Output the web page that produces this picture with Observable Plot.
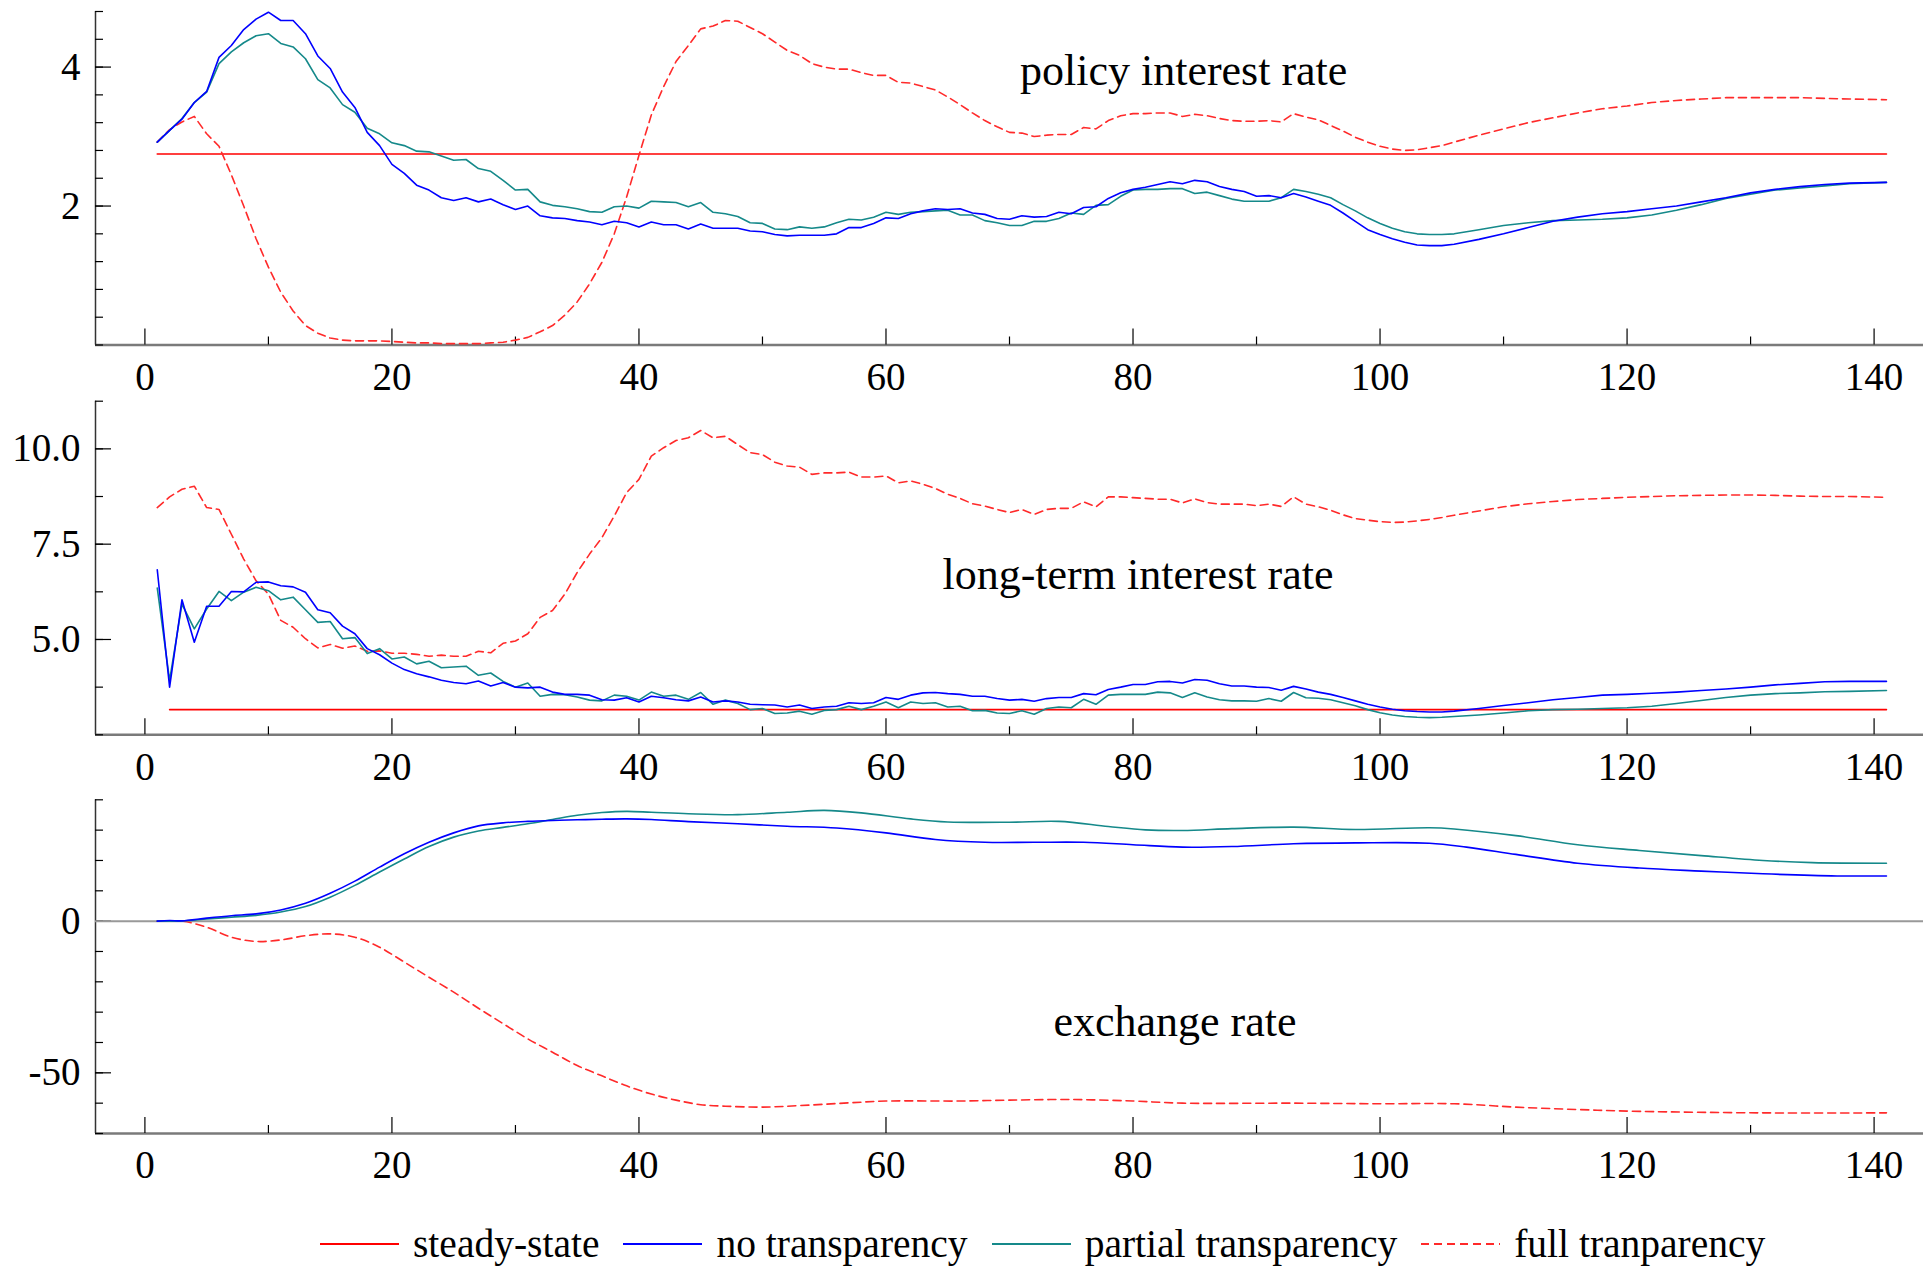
<!DOCTYPE html>
<html>
<head>
<meta charset="utf-8">
<script src="https://cdn.jsdelivr.net/npm/d3@7"></script>
<script src="https://cdn.jsdelivr.net/npm/@observablehq/plot@0.6"></script>
<style>
  html, body { margin: 0; padding: 0; background: #fff; }
  #wrap { position: relative; width: 1926px; height: 1267px; overflow: hidden; font-family: "Liberation Serif", "Times New Roman", serif; }
  #wrap svg.panel { display: block; }
  #legend { position: absolute; left: 320px; top: 1224px; height: 40px; display: flex; align-items: center; font-size: 39.5px; line-height: 40px; color: #000; white-space: nowrap; }
  #legend .sw { display: block; margin-right: 14px; }
  #legend .item { display: flex; align-items: center; margin-right: 24px; }
</style>
</head>
<body>
<div id="wrap"></div>
<script>
// ---------------- data ----------------
// periods (weeks) shared by the policy- and long-term-rate series
const weeks = d3.range(1, 94).concat([94,95,96,97,98,99,100,101,102,103,104,105,106,108,110,112,114,116,118,120,122,124,126,128,130,132,134,136,138,141]);
const firstPeriod = 1, lastPeriod = 141;

// policy interest rate
const policySteady = 2.75;
const policyNo = [2.92,3.09,3.25,3.49,3.65,4.14,4.31,4.54,4.69,4.79,
  4.67,4.67,4.48,4.16,3.98,3.64,3.42,3.06,2.87,2.60,
  2.47,2.30,2.23,2.12,2.08,2.12,2.06,2.10,2.02,1.95,
  2.00,1.86,1.83,1.82,1.79,1.77,1.73,1.78,1.76,1.70,
  1.77,1.73,1.73,1.67,1.74,1.68,1.68,1.68,1.64,1.63,
  1.59,1.57,1.58,1.58,1.58,1.60,1.69,1.69,1.75,1.83,
  1.82,1.89,1.93,1.96,1.95,1.96,1.90,1.88,1.82,1.81,
  1.86,1.84,1.85,1.91,1.89,1.98,1.99,2.11,2.19,2.24,
  2.27,2.31,2.35,2.32,2.37,2.35,2.28,2.24,2.21,2.14,
  2.15,2.12,2.18,
  2.13,2.07,2.01,1.90,1.78,1.66,1.59,1.53,1.48,1.44,1.43,1.43,1.45,
  1.52,1.60,1.69,1.78,1.84,1.89,1.92,1.96,2.00,2.06,2.12,2.19,2.24,2.28,2.31,2.33,2.34];
const policyPartial = [2.92,3.09,3.26,3.49,3.64,4.05,4.22,4.35,4.45,4.48,
  4.34,4.29,4.12,3.82,3.70,3.46,3.35,3.12,3.04,2.91,
  2.87,2.79,2.78,2.72,2.66,2.67,2.54,2.50,2.37,2.23,
  2.24,2.06,2.01,1.99,1.96,1.92,1.91,1.99,2.00,1.97,
  2.07,2.06,2.05,1.99,2.05,1.91,1.89,1.85,1.76,1.75,
  1.67,1.66,1.70,1.68,1.70,1.76,1.81,1.80,1.84,1.91,
  1.88,1.91,1.92,1.93,1.94,1.87,1.87,1.79,1.76,1.72,
  1.72,1.78,1.78,1.82,1.90,1.88,2.01,2.02,2.14,2.23,
  2.24,2.24,2.25,2.25,2.18,2.20,2.15,2.10,2.07,2.07,
  2.07,2.12,2.24,
  2.21,2.17,2.12,2.02,1.93,1.83,1.75,1.68,1.63,1.60,1.59,1.59,1.60,
  1.66,1.72,1.76,1.79,1.80,1.81,1.83,1.87,1.94,2.02,2.11,2.17,2.23,2.26,2.29,2.32,2.34];
const policyFull = [2.92,3.10,3.21,3.29,3.04,2.86,2.45,2.00,1.53,1.12,
  0.76,0.49,0.28,0.17,0.10,0.07,0.06,0.06,0.06,0.05,
  0.04,0.03,0.03,0.02,0.02,0.02,0.02,0.03,0.04,0.07,
  0.11,0.19,0.28,0.43,0.62,0.88,1.19,1.60,2.13,2.73,
  3.31,3.72,4.08,4.31,4.55,4.59,4.67,4.66,4.57,4.48,
  4.36,4.24,4.17,4.05,4.00,3.97,3.97,3.92,3.88,3.88,
  3.78,3.77,3.72,3.67,3.57,3.46,3.34,3.23,3.14,3.06,
  3.05,3.00,3.02,3.03,3.03,3.13,3.11,3.23,3.30,3.33,
  3.33,3.34,3.34,3.29,3.32,3.30,3.26,3.23,3.22,3.22,
  3.23,3.21,3.33,
  3.28,3.24,3.16,3.08,2.99,2.92,2.86,2.82,2.80,2.81,2.84,2.87,2.92,
  3.02,3.11,3.20,3.27,3.34,3.40,3.44,3.49,3.52,3.54,3.56,3.56,3.56,3.56,3.55,3.54,3.53];

// long-term interest rate
const longSteady = 3.16;
const longSteadyStart = 2;
const longNo = [6.83,3.75,6.04,4.93,5.87,5.87,6.26,6.25,6.50,6.51,
  6.41,6.38,6.24,5.78,5.70,5.35,5.15,4.76,4.60,4.38,
  4.21,4.10,4.02,3.93,3.87,3.84,3.91,3.78,3.87,3.75,
  3.73,3.75,3.62,3.56,3.56,3.54,3.42,3.41,3.47,3.36,
  3.51,3.47,3.42,3.39,3.49,3.36,3.39,3.36,3.30,3.29,
  3.28,3.23,3.28,3.19,3.23,3.25,3.34,3.32,3.34,3.48,
  3.43,3.54,3.60,3.61,3.58,3.56,3.51,3.51,3.45,3.41,
  3.43,3.38,3.45,3.48,3.48,3.58,3.55,3.69,3.75,3.82,
  3.82,3.89,3.90,3.86,3.95,3.93,3.84,3.78,3.78,3.75,
  3.74,3.67,3.77,
  3.70,3.62,3.56,3.48,3.39,3.30,3.23,3.17,3.13,3.11,3.10,3.10,3.12,
  3.19,3.27,3.34,3.42,3.48,3.54,3.56,3.59,3.62,3.66,3.70,3.75,3.81,3.85,3.89,3.90,3.90];
const longPartial = [6.35,3.93,5.93,5.28,5.80,6.26,6.02,6.24,6.37,6.28,
  6.04,6.11,5.78,5.45,5.47,5.02,5.05,4.63,4.76,4.49,
  4.54,4.36,4.43,4.26,4.28,4.30,4.06,4.12,3.90,3.75,
  3.86,3.51,3.56,3.55,3.49,3.41,3.39,3.54,3.51,3.41,
  3.62,3.51,3.54,3.43,3.61,3.30,3.41,3.32,3.16,3.19,
  3.06,3.07,3.12,3.04,3.14,3.16,3.25,3.16,3.25,3.36,
  3.21,3.36,3.32,3.34,3.23,3.25,3.13,3.14,3.07,3.06,
  3.13,3.04,3.19,3.23,3.21,3.43,3.30,3.54,3.56,3.56,
  3.56,3.62,3.60,3.48,3.60,3.49,3.42,3.39,3.39,3.38,
  3.45,3.38,3.61,
  3.47,3.46,3.42,3.34,3.26,3.16,3.08,3.02,2.98,2.96,2.95,2.96,2.98,
  3.02,3.07,3.13,3.16,3.17,3.19,3.21,3.25,3.32,3.40,3.48,3.54,3.58,3.60,3.63,3.64,3.66];
const longFull = [8.46,8.74,8.94,9.02,8.46,8.41,7.76,7.11,6.54,6.19,
  5.50,5.32,5.02,4.78,4.87,4.77,4.83,4.69,4.70,4.64,
  4.64,4.61,4.56,4.59,4.56,4.56,4.69,4.65,4.90,4.96,
  5.15,5.58,5.76,6.19,6.76,7.24,7.67,8.24,8.85,9.20,
  9.81,10.03,10.22,10.29,10.48,10.29,10.33,10.11,9.90,9.85,
  9.65,9.55,9.52,9.33,9.37,9.37,9.39,9.26,9.26,9.29,
  9.11,9.16,9.07,8.96,8.81,8.70,8.56,8.50,8.41,8.33,
  8.41,8.28,8.41,8.44,8.44,8.61,8.48,8.74,8.74,8.72,
  8.70,8.68,8.68,8.58,8.69,8.59,8.55,8.55,8.55,8.51,
  8.55,8.49,8.74,
  8.55,8.48,8.39,8.27,8.17,8.13,8.09,8.07,8.08,8.11,8.15,8.20,8.26,
  8.37,8.48,8.56,8.62,8.67,8.70,8.73,8.75,8.77,8.78,8.79,8.79,8.78,8.76,8.75,8.75,8.73];

// exchange rate (smooth series, read at fewer periods)
const fxSteady = 0;
const fxNoWeeks = [1,2,3,5,7,9,11,13,15,17,19,21,23,25,27,29,31,33,35,37,39,41,44,48,52,56,60,64,68,72,76,80,84,88,93,98,104,107,111,116,121,126,131,137,141];
const fxNo = [0,0.2,0.1,1.0,1.8,2.4,3.7,5.9,9.2,13.2,17.8,22.2,26.0,29.1,31.4,32.4,32.9,33.2,33.4,33.6,33.7,33.5,32.8,32.1,31.3,30.7,29.1,26.9,26.0,26.0,26.0,25.2,24.4,24.6,25.5,25.8,25.7,24.4,22.0,19.1,17.5,16.5,15.6,14.9,14.9];
const fxPartialWeeks = [1,3,5,7,9,11,13,15,17,19,21,23,25,27,29,31,33,35,37,39,41,44,48,52,55,58,62,65,70,74,78,81,84,88,93,98,104,106,111,116,121,126,131,135,141];
const fxPartial = [0,0.1,0.7,1.3,1.9,3.0,4.8,7.9,11.8,16.2,20.5,24.6,27.7,29.7,30.9,32.1,33.5,34.9,35.8,36.2,35.9,35.4,35.1,35.9,36.5,35.7,33.7,32.7,32.6,32.9,31.2,30.1,29.9,30.5,31.0,30.2,30.8,30.4,28.2,25.2,23.3,21.6,20.0,19.3,19.1];
const fxFullWeeks = [1,3,5,7,9,11,13,15,17,19,21,23,25,27,29,31,33,35,37,39,41,43,45,47,50,53,57,60,66,70,75,80,84,93,100,106,111,116,121,131,141];
const fxFull = [0,0,-2.0,-5.3,-6.7,-6.2,-4.8,-4.2,-5.3,-8.6,-13.5,-18.5,-23.4,-28.7,-33.8,-38.8,-43.2,-47.6,-51.0,-54.3,-57.0,-59.0,-60.5,-61.0,-61.3,-60.8,-59.9,-59.3,-59.3,-59.0,-58.8,-59.3,-60.0,-60.0,-60.2,-60.2,-61.3,-62.1,-62.7,-63.2,-63.2];

// axes
const xDomain = [-4, 144];
const xMajor = [0, 20, 40, 60, 80, 100, 120, 140];
const xMinor = [10, 30, 50, 70, 90, 110, 130];
const seriesNames = ["steady-state", "no transparency", "partial transparency", "full tranparency"];
const titles = ["policy interest rate", "long-term interest rate", "exchange rate"];

// ---------------- drawing ----------------
const W = 1926, ML = 95, MR = 3;
const C = { steady: "#ff0000", no: "#0000ff", partial: "#15898a", full: "#ff2a2a" };
const DASH = "8,5";
const pairs = (ts, vs) => ts.map((t, i) => ({ t, v: vs[i] }));

function panel(cfg) {
  const plotH = cfg.height - cfg.marginTop - cfg.marginBottom;
  const plotW = W - ML - MR;
  const marks = [
    Plot.ruleY([cfg.yDomain[0]], { stroke: "#7a7a7a", strokeWidth: 2.5 }),
    Plot.ruleX([xDomain[0]], { stroke: "#333", strokeWidth: 1.5 }),
    Plot.tickX(xMajor, { x: d => d, insetTop: plotH - 16, stroke: "#000", strokeWidth: 1.2 }),
    Plot.tickX(xMinor, { x: d => d, insetTop: plotH - 8, stroke: "#000", strokeWidth: 1.2 }),
    Plot.tickY(cfg.yMajorTicks, { y: d => d, insetRight: plotW - 16, stroke: "#000", strokeWidth: 1.2 }),
    Plot.tickY(cfg.yMinorTicks, { y: d => d, insetRight: plotW - 8, stroke: "#000", strokeWidth: 1.2 }),
    Plot.axisX(xMajor, { tickSize: 0, tickPadding: 17, tickFormat: d => String(d), label: null, fontSize: 39 }),
    Plot.axisY(cfg.yLabels, { tickSize: 0, tickPadding: 15, tickFormat: cfg.fmt, label: null, fontSize: 39 }),
    ...cfg.lines,
    Plot.text([cfg.title], { x: "x", y: "y", text: "text", fontSize: 44, textAnchor: "middle", lineAnchor: "middle", fill: "#000" })
  ];
  const svg = Plot.plot({
    width: W, height: cfg.height,
    marginLeft: ML, marginRight: MR, marginTop: cfg.marginTop, marginBottom: cfg.marginBottom,
    x: { domain: xDomain, axis: null },
    y: { domain: cfg.yDomain, axis: null },
    style: { fontFamily: '"Liberation Serif", "Times New Roman", serif', fontSize: "39px", background: "white", color: "#000", overflow: "visible" },
    marks
  });
  svg.classList.add("panel");
  return svg;
}

const lineOpts = (color, dashed, curve) => ({ x: "t", y: "v", stroke: color, strokeWidth: 1.6, curve: curve || "linear", strokeDasharray: dashed ? DASH : null });

const wrap = document.getElementById("wrap");

wrap.appendChild(panel({
  height: 395, marginTop: 11, marginBottom: 50.5,
  yDomain: [0, 4.8],
  yMajorTicks: [2, 4],
  yMinorTicks: d3.range(0, 4.81, 0.4),
  yLabels: [2, 4],
  fmt: d => String(d),
  title: { x: 84.1, y: 3.94, text: titles[0] },
  lines: [
    Plot.line(pairs([firstPeriod, lastPeriod], [policySteady, policySteady]), lineOpts(C.steady)),
    Plot.line(pairs(weeks, policyFull), lineOpts(C.full, true)),
    Plot.line(pairs(weeks, policyPartial), lineOpts(C.partial)),
    Plot.line(pairs(weeks, policyNo), lineOpts(C.no))
  ]
}));

wrap.appendChild(panel({
  height: 395, marginTop: 5.7, marginBottom: 55.7,
  yDomain: [2.5, 11.25],
  yMajorTicks: [5, 7.5, 10],
  yMinorTicks: d3.range(2.5, 11.26, 1.25),
  yLabels: [5, 7.5, 10],
  fmt: d3.format(".1f"),
  title: { x: 80.4, y: 6.70, text: titles[1] },
  lines: [
    Plot.line(pairs([longSteadyStart, lastPeriod], [longSteady, longSteady]), lineOpts(C.steady)),
    Plot.line(pairs(weeks, longFull), lineOpts(C.full, true)),
    Plot.line(pairs(weeks, longPartial), lineOpts(C.partial)),
    Plot.line(pairs(weeks, longNo), lineOpts(C.no))
  ]
}));

wrap.appendChild(panel({
  height: 400, marginTop: 9.3, marginBottom: 57,
  yDomain: [-70, 40],
  yMajorTicks: [-50, 0],
  yMinorTicks: d3.range(-70, 41, 10),
  yLabels: [-50, 0],
  fmt: d => String(d),
  title: { x: 83.4, y: -33.1, text: titles[2] },
  lines: [
    Plot.ruleY([fxSteady], { stroke: "#999", strokeWidth: 2 }),
    Plot.line(pairs(fxFullWeeks, fxFull), lineOpts(C.full, true, "catmull-rom")),
    Plot.line(pairs(fxPartialWeeks, fxPartial), lineOpts(C.partial, false, "catmull-rom")),
    Plot.line(pairs(fxNoWeeks, fxNo), lineOpts(C.no, false, "catmull-rom"))
  ]
}));

// legend
const legend = document.createElement("div");
legend.id = "legend";
const legendStyles = [[C.steady, null], [C.no, null], [C.partial, null], [C.full, DASH]];
seriesNames.forEach((name, i) => {
  const item = document.createElement("div");
  item.className = "item";
  const [color, dash] = legendStyles[i];
  item.innerHTML = `<svg class="sw" width="79" height="20"><line x1="0" x2="79" y1="10" y2="10" stroke="${color}" stroke-width="2" ${dash ? `stroke-dasharray="${dash}"` : ""}/></svg><span>${name}</span>`;
  legend.appendChild(item);
});
wrap.appendChild(legend);
</script>
</body>
</html>
